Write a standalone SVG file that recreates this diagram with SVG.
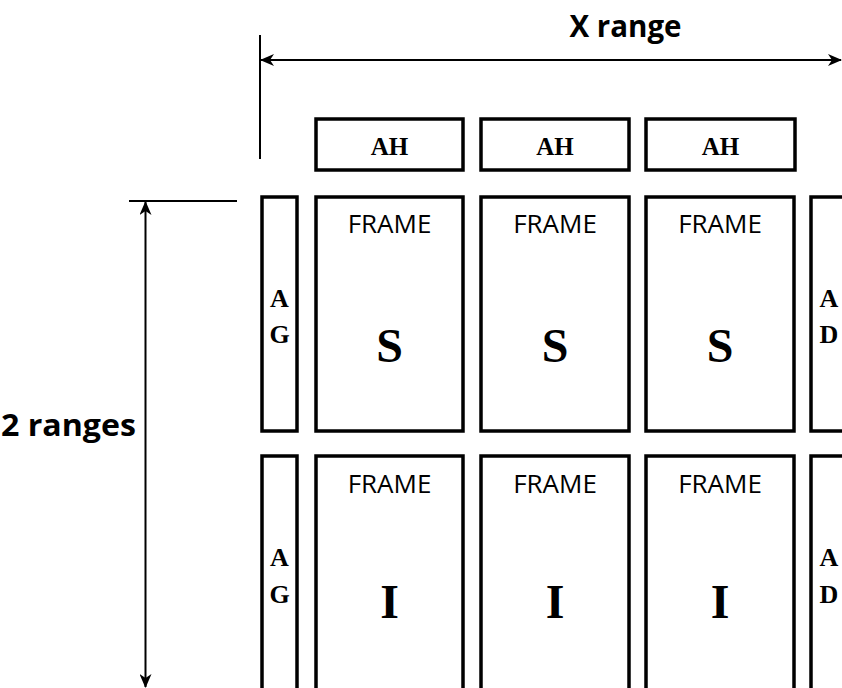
<svg xmlns="http://www.w3.org/2000/svg" width="842" height="688" viewBox="0 0 842 688">
<style>
.box{fill:#fff;stroke:#000;stroke-width:3.5}
.ln{stroke:#000;stroke-width:2;fill:none}
.ser{font-family:"Liberation Serif","DejaVu Serif",serif;font-weight:bold;fill:#000;text-anchor:middle}
.san{font-family:"Open Sans","Liberation Sans",sans-serif;fill:#000;text-anchor:middle}
</style>
<defs>
<marker id="ah" viewBox="0 0 14 12" refX="13" refY="6" markerWidth="14" markerHeight="12" markerUnits="userSpaceOnUse" orient="auto-start-reverse">
<path d="M0,0 L14,6 L0,12 L4,6 Z" fill="#000"/>
</marker>
</defs>
<rect width="842" height="688" fill="#fff"/>
<g id="connectors">
<line class="ln" x1="260" y1="35" x2="260" y2="159"/>
<line class="ln" x1="261" y1="60" x2="841" y2="60" marker-start="url(#ah)" marker-end="url(#ah)"/>
<line class="ln" x1="129" y1="201" x2="237" y2="201"/>
<line class="ln" x1="145.5" y1="202" x2="145.5" y2="687" marker-start="url(#ah)" marker-end="url(#ah)"/>
</g>
<g id="labels">
<text class="san" x="625.5" y="37" font-size="30" font-weight="bold" textLength="112" lengthAdjust="spacingAndGlyphs">X range</text>
<text class="san" x="68.5" y="436" font-size="30" font-weight="bold" textLength="135" lengthAdjust="spacingAndGlyphs">2 ranges</text>
</g>
<g id="ah1"><rect class="box" x="316" y="119" width="147" height="51"/><text class="ser" x="389.5" y="155" font-size="25">AH</text></g>
<g id="ah2"><rect class="box" x="481" y="119" width="148" height="51"/><text class="ser" x="555" y="155" font-size="25">AH</text></g>
<g id="ah3"><rect class="box" x="646" y="119" width="149" height="51"/><text class="ser" x="720.5" y="155" font-size="25">AH</text></g>
<g id="ag1"><rect class="box" x="262" y="197" width="35" height="234"/><text class="ser" x="279.5" y="307" font-size="26">A</text><text class="ser" x="279.5" y="343" font-size="26">G</text></g>
<g id="s1"><rect class="box" x="316" y="197" width="147" height="234"/><text class="san" x="389.5" y="233" font-size="26">FRAME</text><text class="ser" x="389.5" y="362" font-size="48">S</text></g>
<g id="s2"><rect class="box" x="481" y="197" width="148" height="234"/><text class="san" x="555" y="233" font-size="26">FRAME</text><text class="ser" x="555" y="362" font-size="48">S</text></g>
<g id="s3"><rect class="box" x="646" y="197" width="148" height="234"/><text class="san" x="720" y="233" font-size="26">FRAME</text><text class="ser" x="720" y="362" font-size="48">S</text></g>
<g id="ad1"><rect class="box" x="811" y="197" width="40" height="234"/><text class="ser" x="829" y="307" font-size="26">A</text><text class="ser" x="829" y="343" font-size="26">D</text></g>
<g id="ag2"><rect class="box" x="262" y="456" width="35" height="250"/><text class="ser" x="279.5" y="566" font-size="26">A</text><text class="ser" x="279.5" y="603" font-size="26">G</text></g>
<g id="i1"><rect class="box" x="316" y="456" width="147" height="250"/><text class="san" x="389.5" y="493" font-size="26">FRAME</text><text class="ser" x="389.5" y="618" font-size="48">I</text></g>
<g id="i2"><rect class="box" x="481" y="456" width="148" height="250"/><text class="san" x="555" y="493" font-size="26">FRAME</text><text class="ser" x="555" y="618" font-size="48">I</text></g>
<g id="i3"><rect class="box" x="646" y="456" width="148" height="250"/><text class="san" x="720" y="493" font-size="26">FRAME</text><text class="ser" x="720" y="618" font-size="48">I</text></g>
<g id="ad2"><rect class="box" x="811" y="456" width="40" height="250"/><text class="ser" x="829" y="566" font-size="26">A</text><text class="ser" x="829" y="603" font-size="26">D</text></g>
</svg>
